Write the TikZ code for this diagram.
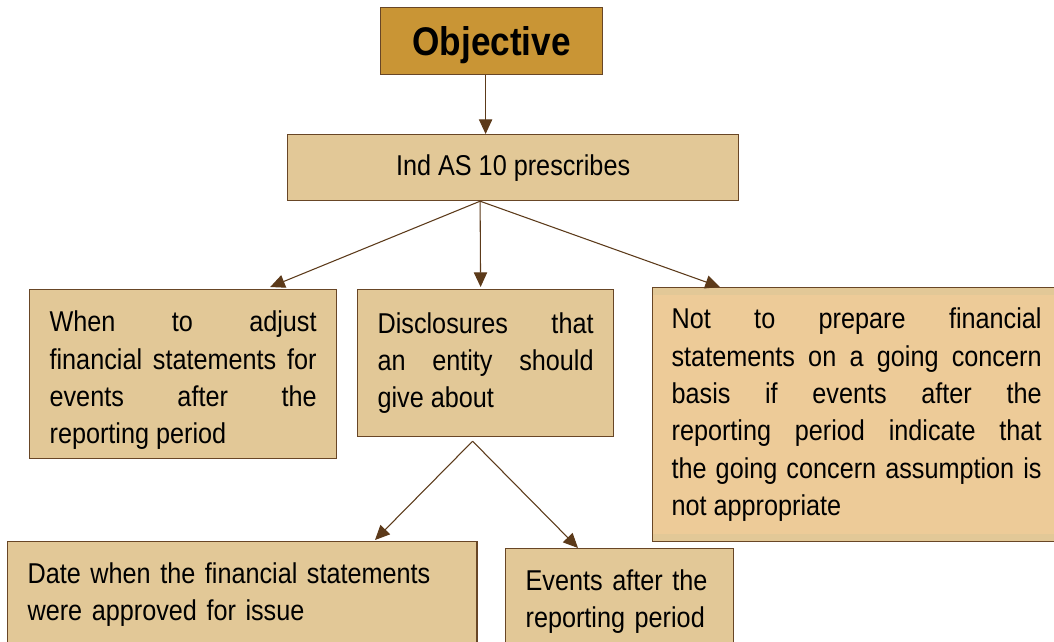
\documentclass[tikz,border=0pt]{standalone}
\usepackage{fontspec}
\setmainfont{Liberation Sans}[FakeStretch=0.88]
\usetikzlibrary{arrows.meta,calc}

\definecolor{objfill}{RGB}{201,149,53}
\definecolor{boxfill}{RGB}{226,200,151}
\definecolor{sidefill}{RGB}{237,203,152}
\definecolor{boxline}{RGB}{104,70,38}
\definecolor{arrowline}{RGB}{92,58,26}

\tikzset{
  box/.style={draw=boxline, line width=0.9pt, fill=boxfill, anchor=north west,
    font=\fontsize{21.5}{28}\selectfont, inner xsep=15pt, inner ysep=0pt},
  jbox/.style={box, align=justify},
  link/.style={draw=arrowline, line width=0.8pt, -{Triangle[length=11pt,width=10pt]}}
}
\newcommand{\topgap}[1]{\rule{0pt}{#1}}
\tolerance=10000 \hbadness=10000

\begin{document}
\begin{tikzpicture}[x=0.75pt,y=0.75pt,yscale=-1,xscale=1]
	\useasboundingbox (0,0) rectangle (1054,642);
	\clip (0,0) rectangle (1054,642);

	% Title
	\node [box, fill=objfill, minimum width=166.5pt, minimum height=50.25pt, text depth=0pt,
	  font=\fontsize{30}{36}\selectfont\bfseries] (obj) at (380,7) {Objective};
	% Ind AS
	\node [box, minimum width=338.25pt, minimum height=49.5pt] (ind) at (287,134) {Ind AS 10 prescribes};

	% Second row
	\node [jbox, text width=200.25pt, minimum height=126.75pt] (when) at (29,289)
	  {\topgap{25pt}When to adjust\linebreak financial statements for\linebreak events after the\linebreak reporting period};
	\node [jbox, text width=162pt, minimum height=110.25pt] (disc) at (357,289)
	  {Disclosures that\linebreak an entity should\linebreak give about};
	\node [jbox, fill=sidefill, text width=277.5pt, inner xsep=14.25pt, minimum height=190.5pt,
	  path picture={
	    \fill [boxfill] (path picture bounding box.north west) rectangle ++(800,-7.5);
	    \fill [boxfill] (path picture bounding box.south west) rectangle ++(800,8);
	  }] (notgc) at (652,287)
	  {\vphantom{Ng}Not to prepare financial\linebreak statements on a going concern\linebreak basis if events after the\linebreak reporting period indicate that\linebreak the going concern assumption is\linebreak not appropriate};

	% Third row
	\node [box, align=left, text width=322pt, inner ysep=15.75pt, text depth=60pt] (date) at (7,541)
	  {Date when the financial statements\\ were approved for issue};
	\node [box, align=left, text width=141pt, inner ysep=15.75pt, text depth=60pt] (events) at (505,548)
	  {Events after the\\ reporting period};

	% Connections
	\draw [link] ($(obj.south)+(-6,0)$) -- ($(ind.north)+(-27.5,0)$);
	\draw [link] ($(ind.south)+(-33,0)$) -- ($(when.north east)+(-67,-2)$);
	\draw [link] ($(ind.south)+(-33,0)$) -- ($(disc.north)+(-5,-2)$);
	\draw [link] ($(ind.south)+(-33,0)$) -- ($(notgc.north west)+(68,0)$);
	\draw [link] ($(disc.south)+(-13,4)$) -- ($(date.north west)+(368,-1)$);
	\draw [link] ($(disc.south)+(-13,4)$) -- ($(events.north west)+(73,0)$);

\end{tikzpicture}
\end{document}
